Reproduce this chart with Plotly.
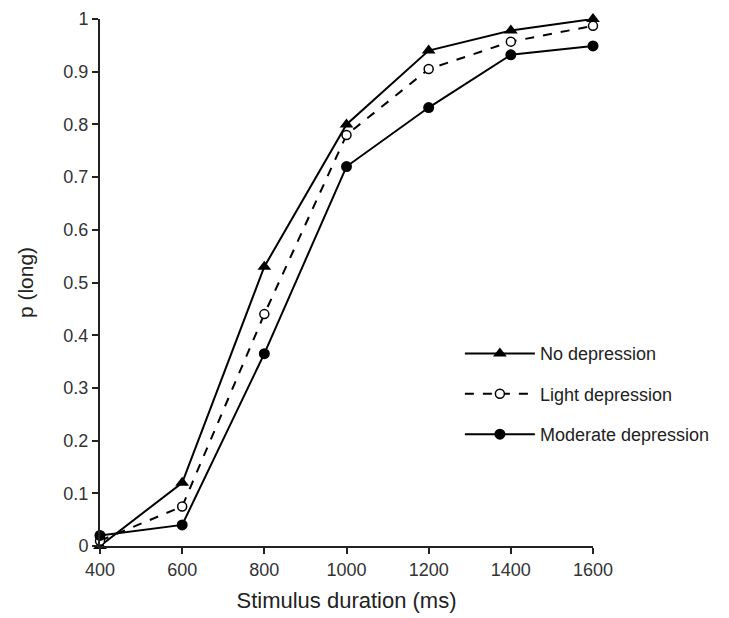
import plotly.graph_objects as go

durations = [400, 600, 800, 1000, 1200, 1400, 1600]
no_dep = [0.0, 0.12, 0.53, 0.80, 0.94, 0.978, 1.0]
light_dep = [0.01, 0.075, 0.44, 0.78, 0.905, 0.957, 0.987]
moderate_dep = [0.02, 0.04, 0.365, 0.72, 0.832, 0.932, 0.949]
y_ticks = [0, 0.1, 0.2, 0.3, 0.4, 0.5, 0.6, 0.7, 0.8, 0.9, 1]
y_tick_labels = ["0", "0.1", "0.2", "0.3", "0.4", "0.5", "0.6", "0.7", "0.8", "0.9", "1"]
x_ticks = [400, 600, 800, 1000, 1200, 1400, 1600]

fig = go.Figure()
fig.add_trace(go.Scatter(x=durations, y=no_dep, name="No depression", mode="lines+markers",
                         legendgroup="a",
                         line=dict(color="black", width=2),
                         marker=dict(symbol="triangle-up", size=12, color="black"),
                         cliponaxis=False))
fig.add_trace(go.Scatter(x=durations, y=light_dep, name="Light depression", mode="lines+markers",
                         legendgroup="b",
                         line=dict(color="black", width=2, dash="dash"),
                         marker=dict(symbol="circle", size=9, color="white",
                                     line=dict(color="black", width=1.5)),
                         cliponaxis=False))
fig.add_trace(go.Scatter(x=durations, y=moderate_dep, name="Moderate depression", mode="lines+markers",
                         legendgroup="c",
                         line=dict(color="black", width=2),
                         marker=dict(symbol="circle", size=11, color="black"),
                         cliponaxis=False))

font_family = "Liberation Sans, Arial, sans-serif"
fig.update_layout(
    width=729, height=618,
    margin=dict(l=100, r=136, t=19, b=72),
    paper_bgcolor="white", plot_bgcolor="white",
    font=dict(family=font_family, color="#333333", size=18),
    legend=dict(x=0.73, y=0.40, xanchor="left", yanchor="top",
                font=dict(size=18, color="#222222"), bgcolor="rgba(0,0,0,0)",
                tracegroupgap=14, itemwidth=70),
    xaxis=dict(range=[400, 1600], tickvals=x_ticks, showline=True, linecolor="#222222",
               linewidth=2, ticks="outside", ticklen=6, tickwidth=1.5, tickcolor="#222222",
               showgrid=False, zeroline=False, automargin=False,
               title=dict(text="Stimulus duration (ms)", font=dict(size=22, color="#222222"), standoff=14),
               tickfont=dict(size=18)),
    yaxis=dict(range=[0, 1], tickvals=y_ticks, ticktext=y_tick_labels, showline=True,
               linecolor="#222222", linewidth=2, ticks="outside", ticklen=6, tickwidth=1.5,
               tickcolor="#222222", showgrid=False, zeroline=False, automargin=False,
               title=dict(text="p (long)", font=dict(size=21, color="#222222"), standoff=24),
               tickfont=dict(size=18)),
)

fig.write_html("out.html")
